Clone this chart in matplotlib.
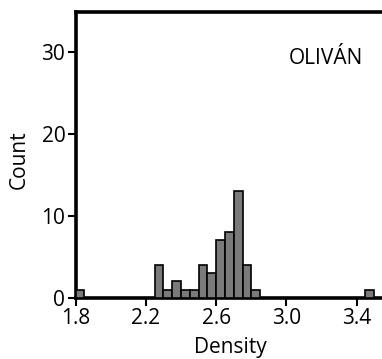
import matplotlib
matplotlib.use("Agg")
import matplotlib.pyplot as plt
import numpy as np

bin_left = [1.80, 2.25, 2.30, 2.35, 2.40, 2.45, 2.50, 2.55, 2.60, 2.65, 2.70, 2.75, 2.80, 3.45]
counts   = [1,    4,    1,    2,    1,    1,    4,    3,    7,    8,    13,   4,    1,    1]
bin_width = 0.05
xticks = [1.8, 2.2, 2.6, 3.0, 3.4]
yticks = [0, 10, 20, 30]
label = "OLIVÁN"

plt.rcParams['font.family'] = ['Open Sans', 'DejaVu Sans']

W, H = 382, 359
fig = plt.figure(figsize=(W/100, H/100), dpi=100)
x0, x1 = 75.7, 388
y0, y1 = 297.7, 12.3
ax = fig.add_axes([x0/W, 1 - y0/H, (x1-x0)/W, (y0-y1)/H])
ppu = 175.6
ax.set_xlim(1.8, 1.8 + (x1-x0)/ppu)
ax.set_ylim(0, 34.9)

ax.bar(bin_left, counts, width=bin_width, align='edge', color='#7a7a7a',
       edgecolor='black', linewidth=1.2, zorder=3)

for s in ax.spines.values():
    s.set_linewidth(2.6)
ax.spines['right'].set_visible(False)
ax.set_xticks(xticks)
ax.set_xticklabels([f"{v:.1f}" for v in xticks])
ax.set_yticks(yticks)
ax.tick_params(direction='out', length=6, width=1.5, labelsize=15, pad=1.5)
ax.set_xlabel("")
ax.set_ylabel("")
fig.text(230/W, 1 - 347/H, "Density", ha='center', va='center', fontsize=15)
fig.text(19/W, 1 - 160/H, "Count", ha='center', va='center', rotation=90, fontsize=15)
fig.text(363/W, 1 - 58/H, label, ha='right', va='center', fontsize=15)

fig.savefig("out.png", dpi=100)
